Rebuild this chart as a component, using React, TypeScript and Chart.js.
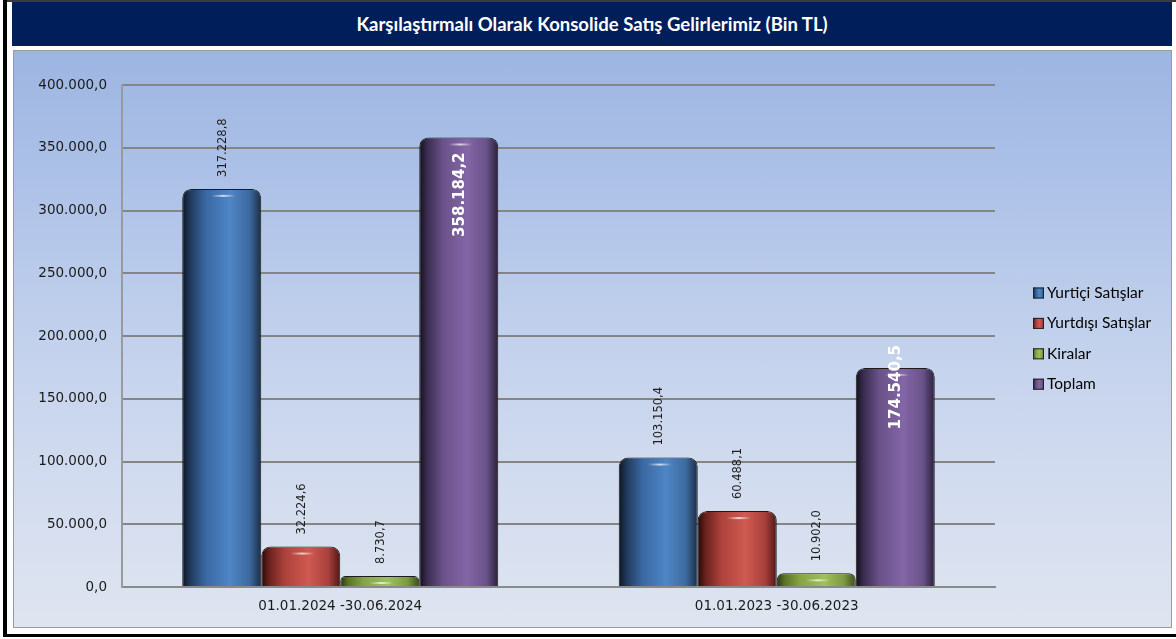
import React, { useEffect, useRef } from "react";
import { Chart, registerables } from "chart.js";

Chart.register(...registerables);

const TITLE = "Karşılaştırmalı Olarak Konsolide Satış Gelirlerimiz (Bin TL)";
const categories = ["01.01.2024 -30.06.2024", "01.01.2023 -30.06.2023"];
const seriesNames = ["Yurtiçi Satışlar", "Yurtdışı Satışlar", "Kiralar", "Toplam"];
const yurticiSatislar = [317228.8, 103150.4];
const yurtdisiSatislar = [32224.6, 60488.1];
const kiralar = [8730.7, 10902.0];
const toplam = [358184.2, 174540.5];
const yMin = 0;
const yMax = 400000;
const yStep = 50000;

const CAT_PCT = 0.724;
const toplamLabelShift = [15, -23];

const fmt = (v: number) => {
  const [i, d] = Number(v).toFixed(1).split(".");
  return i.replace(/\B(?=(\d{3})+(?!\d))/g, ".") + "," + d;
};

const baseColors = ["#4F81BD", "#C0504D", "#9BBB59", "#8064A2"];
const barStops: [number, string][][] = [
  [[0, "#0c1523"], [0.1, "#213a5c"], [0.3, "#3a68a3"], [0.6, "#4f86c6"], [0.85, "#3d6a9f"], [1, "#1b2d46"]],
  [[0, "#260806"], [0.1, "#6b221e"], [0.3, "#ad423c"], [0.6, "#cf5a51"], [0.85, "#a9403b"], [1, "#501714"]],
  [[0, "#2a3510"], [0.1, "#5b7326"], [0.3, "#86a544"], [0.6, "#9fc05c"], [0.85, "#7d9a40"], [1, "#3d4d1a"]],
  [[0, "#140f1c"], [0.1, "#3a2c50"], [0.3, "#6a5289"], [0.6, "#8366a6"], [0.85, "#69528a"], [1, "#2a2039"]],
];

const makeGrad = (ctx: CanvasRenderingContext2D, di: number, left: number, width: number) => {
  const g = ctx.createLinearGradient(left, 0, left + width, 0);
  barStops[di].forEach(([o, c]) => g.addColorStop(o, c));
  return g;
};

const barBg = (c: any) => {
  const di = c.datasetIndex;
  if (c.type !== "data") return baseColors[di];
  const chart = c.chart;
  const xs = chart.scales && chart.scales.x;
  if (!xs || !chart.chartArea) return baseColors[di];
  const center = xs.getPixelForValue(c.dataIndex);
  const catW = xs.width / categories.length;
  const groupW = catW * CAT_PCT;
  const barW = groupW / seriesNames.length;
  const left = center - groupW / 2 + di * barW;
  return makeGrad(chart.ctx, di, left, barW);
};

const labelPlugin = {
  id: "valueLabels",
  afterDatasetsDraw(chart: any) {
    const ctx: CanvasRenderingContext2D = chart.ctx;
    chart.data.datasets.forEach((ds: any, di: number) => {
      const meta = chart.getDatasetMeta(di);
      meta.data.forEach((bar: any, i: number) => {
        const w = bar.width;
        ctx.save();
        const hx = bar.x + w * 0.02;
        const hg = ctx.createLinearGradient(hx - 12, 0, hx + 12, 0);
        hg.addColorStop(0, "rgba(255,255,255,0)");
        hg.addColorStop(0.5, "rgba(255,255,255,0.75)");
        hg.addColorStop(1, "rgba(255,255,255,0)");
        ctx.strokeStyle = hg;
        ctx.lineWidth = 2;
        ctx.beginPath();
        ctx.moveTo(hx - 12, bar.y + 7);
        ctx.lineTo(hx + 12, bar.y + 7);
        ctx.stroke();
        ctx.restore();

        const text = fmt(ds.data[i]);
        ctx.save();
        ctx.translate(bar.x + 1, bar.y);
        ctx.rotate(-Math.PI / 2);
        ctx.textBaseline = "middle";
        if (di === 3) {
          ctx.font = "bold 15px 'DejaVu Sans'";
          ctx.fillStyle = "#ffffff";
          ctx.textAlign = "right";
          ctx.fillText(text, -toplamLabelShift[i], 0);
        } else {
          ctx.font = "11.5px 'DejaVu Sans'";
          ctx.fillStyle = "#1e1e1e";
          ctx.textAlign = "left";
          ctx.fillText(text, 12, 0);
        }
        ctx.restore();
      });
    });
  },
  afterDraw(chart: any) {
    const ctx: CanvasRenderingContext2D = chart.ctx;
    const mx = 1020;
    const tx = 1034;
    const y0 = 243;
    const gap = 30.4;
    const s = 11;
    seriesNames.forEach((name, di) => {
      const cy = y0 + di * gap;
      ctx.save();
      ctx.fillStyle = makeGrad(ctx, di, mx, s);
      ctx.fillRect(mx, cy - s / 2, s, s);
      ctx.strokeStyle = "#222";
      ctx.lineWidth = 1;
      ctx.strokeRect(mx + 0.5, cy - s / 2 + 0.5, s - 1, s - 1);
      ctx.fillStyle = "#000";
      ctx.font = "15.5px Lato";
      ctx.textAlign = "left";
      ctx.textBaseline = "middle";
      ctx.fillText(name, tx, cy);
      ctx.restore();
    });
  },
};

function App() {
  const ref = useRef<HTMLCanvasElement>(null);
  useEffect(() => {
    if (!ref.current) return;
    const seriesData = [yurticiSatislar, yurtdisiSatislar, kiralar, toplam];
    const chart = new Chart(ref.current, {
      type: "bar",
      data: {
        labels: categories,
        datasets: seriesNames.map((n, di) => ({
          label: n,
          data: seriesData[di],
          backgroundColor: barBg,
          borderColor: "#1c1c1c",
          borderWidth: 1,
          borderSkipped: "start",
          borderRadius: { topLeft: 9, topRight: 9, bottomLeft: 0, bottomRight: 0 },
          categoryPercentage: CAT_PCT,
          barPercentage: 1,
        })),
      },
      options: {
        animation: false,
        responsive: false,
        layout: { padding: { top: 35, right: 177, left: 0, bottom: 0 } },
        plugins: {
          legend: { display: false },
          title: { display: false },
          tooltip: { enabled: false },
        },
        scales: {
          x: {
            grid: { display: false, drawTicks: false },
            border: { display: true, color: "#8a8a8a", width: 2 },
            ticks: {
              color: "#1a1a1a",
              font: { family: "DejaVu Sans", size: 13.5 },
              padding: 11,
            },
            afterFit: (s: any) => {
              s.height = 41;
            },
          },
          y: {
            min: yMin,
            max: yMax,
            grid: { color: "#858585", lineWidth: 2, drawTicks: false },
            border: { display: true, color: "#9a9a9a", width: 2 },
            ticks: {
              stepSize: yStep,
              padding: 15,
              color: "#1a1a1a",
              font: { family: "DejaVu Sans", size: 13.5 },
              callback: (v: any) => fmt(Number(v)),
            },
            afterFit: (s: any) => {
              s.width = 109;
            },
          },
        },
      },
      plugins: [labelPlugin],
    });
    return () => chart.destroy();
  }, []);

  const abs = (l: number, t: number, w: number, h: number, extra: React.CSSProperties = {}): React.CSSProperties => ({
    position: "absolute",
    left: l,
    top: t,
    width: w,
    height: h,
    boxSizing: "border-box",
    ...extra,
  });

  return (
    <div style={{ position: "absolute", left: 0, top: 0, width: 1176, height: 639, background: "#fff", overflow: "hidden" }}>
      <div style={abs(3, 0, 1173, 2, { background: "#3a3a3a" })} />
      <div style={abs(3, 0, 4, 637, { background: "#000" })} />
      <div style={abs(3, 634, 1173, 3, { background: "#000" })} />
      <div
        style={abs(12, 2, 1160, 44, {
          background: "#001E5A",
          color: "#fff",
          fontFamily: "Lato, 'Open Sans', sans-serif",
          fontWeight: 700,
          fontSize: 18.5,
          display: "flex",
          alignItems: "center",
          justifyContent: "center",
        })}
      >
        {TITLE}
      </div>
      <div
        style={abs(13, 50, 1159, 578, {
          border: "1px solid #9a9a9a",
          background: "linear-gradient(to bottom, #9cb5e1 0%, #afc3e8 25%, #c2d1ec 50%, #d2dcef 75%, #dfe5f0 100%)",
        })}
      />
      <canvas ref={ref} width={1159} height={578} style={{ position: "absolute", left: 13, top: 50 }} />
    </div>
  );
}

export default App;
